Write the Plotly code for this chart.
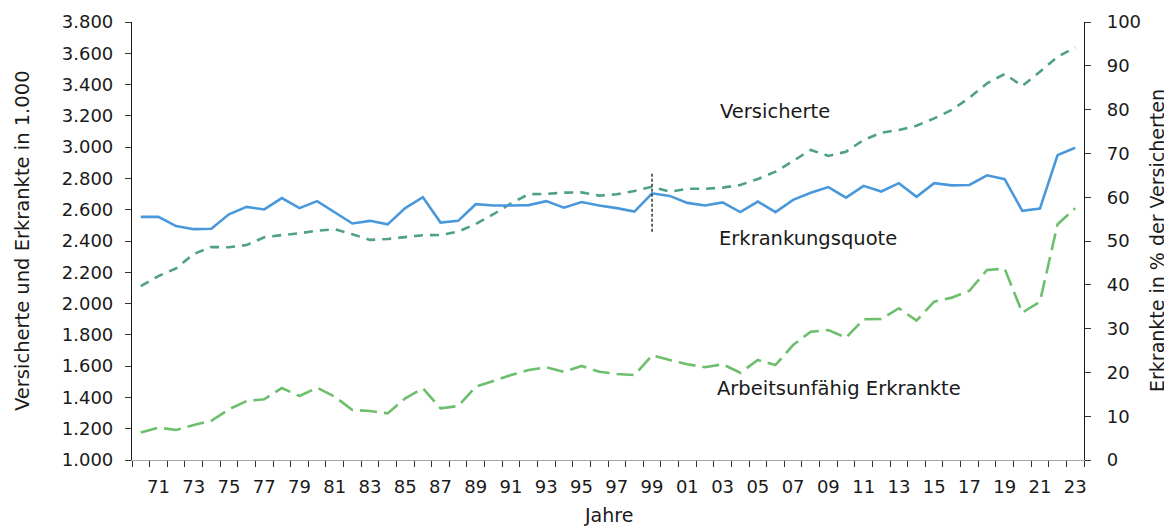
import plotly.graph_objects as go

years = list(range(1970, 2024))
tick_years = list(range(1971, 2024, 2))
tick_text = [f"{y % 100:02d}" for y in tick_years]

versicherte = [2112, 2176, 2225, 2317, 2362, 2360, 2374, 2424, 2438, 2449,
               2466, 2475, 2443, 2407, 2413, 2424, 2437, 2438, 2460, 2509,
               2571, 2641, 2699, 2701, 2709, 2711, 2690, 2699, 2720, 2747,
               2715, 2734, 2734, 2741, 2758, 2796, 2843, 2911, 2982, 2944,
               2971, 3046, 3092, 3110, 3137, 3184, 3238, 3316, 3408, 3468,
               3391, 3482, 3578, 3638]

erkrankte = [1175, 1207, 1192, 1224, 1251, 1324, 1377, 1388, 1460, 1409,
             1462, 1405, 1320, 1313, 1298, 1394, 1458, 1330, 1345, 1469,
             1505, 1543, 1575, 1593, 1564, 1601, 1564, 1550, 1543, 1669,
             1639, 1612, 1593, 1612, 1558, 1639, 1607, 1735, 1820, 1831,
             1782, 1900, 1901, 1970, 1891, 2012, 2038, 2082, 2215, 2223,
             1942, 2012, 2507, 2609]

quote = [55.5, 55.5, 53.4, 52.7, 52.8, 56.1, 57.8, 57.2, 59.8, 57.5,
         59.1, 56.5, 54.0, 54.6, 53.8, 57.5, 60.0, 54.2, 54.6, 58.4,
         58.1, 58.1, 58.2, 59.1, 57.6, 58.9, 58.1, 57.5, 56.7, 60.9,
         60.3, 58.7, 58.1, 58.8, 56.6, 59.0, 56.6, 59.4, 61.0, 62.3,
         59.9, 62.6, 61.3, 63.2, 60.1, 63.2, 62.7, 62.8, 65.0, 64.1,
         56.9, 57.4, 69.6, 71.3]

left_ticks = list(range(1000, 3801, 200))
left_text = [f"{v // 1000}.{v % 1000:03d}" for v in left_ticks]
right_ticks = list(range(0, 101, 10))

FONT = "DejaVu Sans"
TXT = "#1a1a1a"
TICK_SIZE = 18
TEXT_SIZE = 19.5

fig = go.Figure()
fig.add_trace(go.Scatter(x=years, y=versicherte, mode="lines", name="Versicherte",
                         line=dict(color="#4f9f8b", width=2.6, dash="9px,7px")))
fig.add_trace(go.Scatter(x=years, y=erkrankte, mode="lines", name="Arbeitsunfähig Erkrankte",
                         line=dict(color="#6dbf6d", width=2.6, dash="17px,7px")))
fig.add_trace(go.Scatter(x=years, y=quote, mode="lines", name="Erkrankungsquote",
                         yaxis="y2", line=dict(color="#4a98dc", width=2.6)))

fig.add_shape(type="line", xref="x", yref="y2", x0=1999, x1=1999, y0=52.1, y1=65.8,
              line=dict(color="#333333", width=1.5, dash="3px,2px"))

ann_font = dict(family=FONT, size=TEXT_SIZE, color=TXT)
fig.add_annotation(x=2002.74, y=3231, xref="x", yref="y", text="Versicherte",
                   showarrow=False, xanchor="left", yanchor="middle", font=ann_font)
fig.add_annotation(x=2002.68, y=2419, xref="x", yref="y", text="Erkrankungsquote",
                   showarrow=False, xanchor="left", yanchor="middle", font=ann_font)
fig.add_annotation(x=2002.57, y=1454, xref="x", yref="y", text="Arbeitsunfähig Erkrankte",
                   showarrow=False, xanchor="left", yanchor="middle", font=ann_font)

# axis titles
fig.add_annotation(x=0, y=0.5, xref="paper", yref="paper", xshift=-110,
                   text="Versicherte und Erkrankte in 1.000",
                   textangle=-90, showarrow=False, xanchor="center", yanchor="middle", font=ann_font)
fig.add_annotation(x=1, y=0.5, xref="paper", yref="paper", xshift=73,
                   text="Erkrankte in % der Versicherten",
                   textangle=-90, showarrow=False, xanchor="center", yanchor="middle",
                   font=dict(family=FONT, size=19, color=TXT))
fig.add_annotation(x=0.5, y=0, xref="paper", yref="paper", yshift=-55, text="Jahre",
                   showarrow=False, xanchor="center", yanchor="middle",
                   font=dict(family=FONT, size=19, color=TXT))

# page body has an 8px default margin, so the figure is sized 8px smaller
fig.update_layout(
    width=1164, height=520,
    margin=dict(l=124, r=88, t=14, b=68, autoexpand=False),
    paper_bgcolor="white", plot_bgcolor="white",
    showlegend=False,
    font=dict(family=FONT, size=TICK_SIZE, color=TXT),
    xaxis=dict(
        range=[1969.5, 2023.5], tickmode="array", tickvals=tick_years, ticktext=tick_text,
        ticks="", showgrid=False, zeroline=False, automargin=False,
        showline=True, linecolor="#a6a6a6", linewidth=1.2, ticklabelstandoff=10,
        minor=dict(ticks="outside", tick0=1969.5, dtick=1, ticklen=6,
                   tickcolor="#333333", tickwidth=1, showgrid=False),
        tickfont=dict(family=FONT, size=TICK_SIZE, color=TXT),
    ),
    yaxis=dict(
        range=[1000, 3800], tickmode="array", tickvals=left_ticks, ticktext=left_text,
        ticks="outside", ticklen=6, tickcolor="#333333", automargin=False, ticklabelstandoff=8,
        showgrid=False, zeroline=False, showline=True, linecolor="#1a1a1a", linewidth=1.2,
        tickfont=dict(family=FONT, size=TICK_SIZE, color=TXT),
    ),
    yaxis2=dict(
        range=[0, 100], overlaying="y", side="right", tickmode="array", tickvals=right_ticks,
        ticks="outside", ticklen=6, tickcolor="#333333", automargin=False, ticklabelstandoff=12,
        showgrid=False, zeroline=False, showline=True, linecolor="#1a1a1a", linewidth=1.2,
        tickfont=dict(family=FONT, size=TICK_SIZE, color=TXT),
    ),
)

fig.write_html("out.html")
